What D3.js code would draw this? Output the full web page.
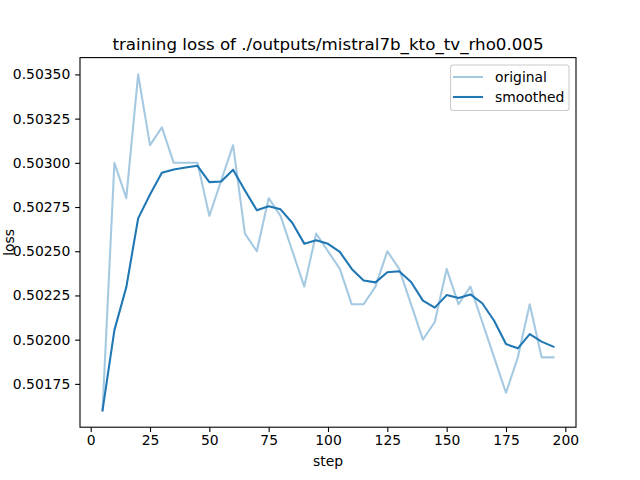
<!DOCTYPE html>
<html>
<head>
<meta charset="utf-8">
<script src="https://cdn.jsdelivr.net/npm/d3@7"></script>
<style>
  html, body { margin: 0; padding: 0; background: #fff; }
  svg { display: block; font-family: "DejaVu Sans", sans-serif; }
</style>
</head>
<body>
<svg id="chart" width="640" height="480"></svg>
<script>
const titleText = "training loss of ./outputs/mistral7b_kto_tv_rho0.005";
const steps = [5,10,15,20,25,30,35,40,45,50,55,60,65,70,75,80,85,90,95,100,
  105,110,115,120,125,130,135,140,145,150,155,160,165,170,175,180,185,190,195];
const original = [0.5016,0.5030,0.5028,0.5035,0.5031,0.5032,0.5030,0.5030,0.5030,0.5027,
  0.5029,0.5031,0.5026,0.5025,0.5028,0.5027,0.5025,0.5023,0.5026,0.5025,
  0.5024,0.5022,0.5022,0.5023,0.5025,0.5024,0.5022,0.5020,0.5021,0.5024,
  0.5022,0.5023,0.5021,0.5019,0.5017,0.5019,0.5022,0.5019,0.5019];
const smoothed = [0.501600,0.502054,0.502296,0.502686,0.502821,0.502944,0.502962,0.502974,0.502983,0.502891,
  0.502894,0.502961,0.502844,0.502732,0.502754,0.502737,0.502660,0.502543,0.502562,0.502542,
  0.502496,0.502400,0.502335,0.502324,0.502381,0.502387,0.502326,0.502221,0.502181,0.502252,
  0.502235,0.502256,0.502206,0.502107,0.501975,0.501951,0.502031,0.501989,0.501960];
const xTicks = [0,25,50,75,100,125,150,175,200];
const yTicks = [0.50175,0.50200,0.50225,0.50250,0.50275,0.50300,0.50325,0.50350];
const seriesNames = ["original","smoothed"];

const svg = d3.select("#chart");
const L = 80, R = 576, T = 57.6, B = 427.2;
const fs = 13.9;
const color = "#1f77b4";

const xmin = d3.min(steps), xmax = d3.max(steps);
const xpad = (xmax - xmin) * 0.05;
const allY = original.concat(smoothed);
const ymin = d3.min(allY), ymax = d3.max(allY);
const ypad = (ymax - ymin) * 0.05;

const x = d3.scaleLinear().domain([xmin - xpad, xmax + xpad]).range([L, R]);
const y = d3.scaleLinear().domain([ymin - ypad, ymax + ypad]).range([B, T]);

const line = d3.line().x((d, i) => x(steps[i])).y(d => y(d));

const g = svg.append("g");
g.append("path").datum(original)
  .attr("d", line).attr("fill", "none")
  .attr("stroke", color).attr("stroke-opacity", 0.4)
  .attr("stroke-width", 2.08).attr("stroke-linejoin", "round").attr("stroke-linecap", "square");
g.append("path").datum(smoothed)
  .attr("d", line).attr("fill", "none")
  .attr("stroke", color)
  .attr("stroke-width", 2.08).attr("stroke-linejoin", "round").attr("stroke-linecap", "square");

// axes
const xAxis = d3.axisBottom(x).tickValues(xTicks).tickSize(4.86).tickPadding(3.2).tickFormat(d3.format("d"));
const yAxis = d3.axisLeft(y).tickValues(yTicks).tickSize(4.86).tickPadding(4.86).tickFormat(d3.format(".5f"));

const gx = svg.append("g").attr("transform", `translate(0,${B})`).call(xAxis);
const gy = svg.append("g").attr("transform", `translate(${L},0)`).call(yAxis);
[gx, gy].forEach(a => {
  a.select(".domain").remove();
  a.selectAll(".tick line").attr("stroke", "#000").attr("stroke-width", 1.1);
  a.selectAll(".tick text").attr("fill", "#000").style("font-size", fs + "px")
    .style("font-family", "'DejaVu Sans', sans-serif");
});

// frame
svg.append("rect").attr("x", L).attr("y", T).attr("width", R - L).attr("height", B - T)
  .attr("fill", "none").attr("stroke", "#000").attr("stroke-width", 1.1);

// title & labels
svg.append("text").attr("x", (L + R) / 2).attr("y", 49.5).attr("text-anchor", "middle")
  .style("font-size", "16.7px").attr("fill", "#000").text(titleText);
svg.append("text").attr("x", (L + R) / 2).attr("y", 466).attr("text-anchor", "middle")
  .style("font-size", fs + "px").attr("fill", "#000").text("step");
svg.append("text").attr("transform", `translate(14,${(T + B) / 2}) rotate(-90)`)
  .attr("text-anchor", "middle").style("font-size", fs + "px").attr("fill", "#000").text("loss");

// legend
const lg = svg.append("g");
lg.append("rect").attr("x", 450.5).attr("y", 65).attr("width", 118.5).attr("height", 45.5)
  .attr("rx", 2.8).attr("fill", "#fff").attr("fill-opacity", 0.8)
  .attr("stroke", "#cccccc").attr("stroke-width", 1.1);
const legendY = [77, 97];
seriesNames.forEach((name, i) => {
  lg.append("line").attr("x1", 454).attr("x2", 482).attr("y1", legendY[i]).attr("y2", legendY[i])
    .attr("stroke", color).attr("stroke-opacity", i === 0 ? 0.4 : 1)
    .attr("stroke-width", 2.08).attr("stroke-linecap", "square");
  lg.append("text").attr("x", 495).attr("y", legendY[i] + 5)
    .style("font-size", fs + "px").attr("fill", "#000").text(name);
});
</script>
</body>
</html>
